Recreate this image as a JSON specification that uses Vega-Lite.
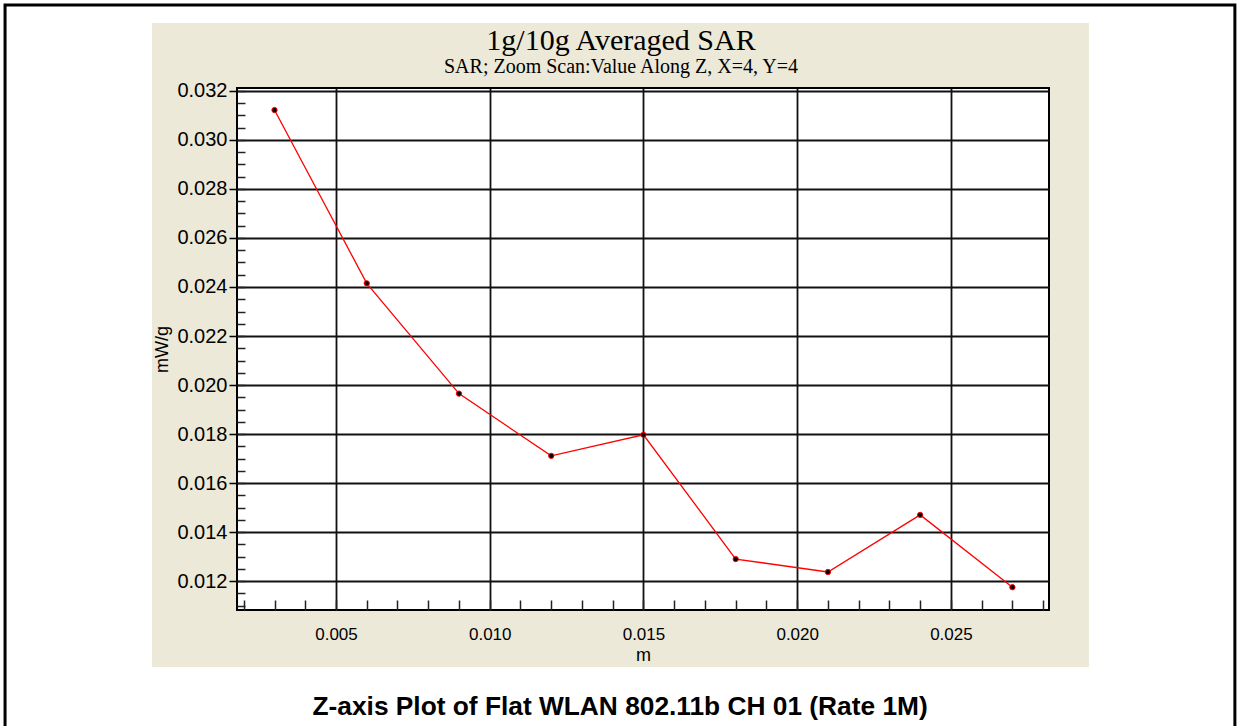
{
  "$schema": "https://vega.github.io/schema/vega-lite/v6.json",
  "width": 812,
  "height": 522,
  "autosize": {"type": "none"},
  "padding": {"left": 237, "top": 88, "right": 191, "bottom": 116},
  "background": "#ECE9D8",
  "config": {
    "view": {"fill": "white", "stroke": "black", "strokeWidth": 2},
    "axis": {"labelFont": "Liberation Sans", "titleFont": "Liberation Sans", "labelColor": "black", "titleColor": "black", "titleFontWeight": "normal"}
  },
  "title": {
    "text": "1g/10g Averaged SAR",
    "subtitle": "SAR; Zoom Scan:Value Along Z, X=4, Y=4",
    "font": "Liberation Serif",
    "fontSize": 30,
    "fontWeight": "normal",
    "color": "black",
    "subtitleFont": "Liberation Serif",
    "subtitleFontSize": 20,
    "subtitleColor": "black",
    "subtitlePadding": 1,
    "anchor": "middle",
    "frame": "group",
    "dx": -22,
    "offset": -77
  },
  "datasets": {
    "sar": [
      {"m": 0.003, "sar": 0.03122},
      {"m": 0.006, "sar": 0.02415},
      {"m": 0.009, "sar": 0.01965},
      {"m": 0.012, "sar": 0.01711},
      {"m": 0.015, "sar": 0.01797},
      {"m": 0.018, "sar": 0.0129},
      {"m": 0.021, "sar": 0.01237},
      {"m": 0.024, "sar": 0.0147},
      {"m": 0.027, "sar": 0.01175}
    ],
    "strips": [
      {"x1": -0.02, "x2": 0.05, "y1": 0.034776, "y2": 0.035711},
      {"x1": -0.02, "x2": 0.05, "y1": 0.0, "y2": 0.00849},
      {"x1": -0.02, "x2": -0.000984, "y1": 0.00849, "y2": 0.034776},
      {"x1": 0.029488, "x2": 0.05, "y1": 0.00849, "y2": 0.034776}
    ],
    "border": [
      {"x1": -0.005764, "x2": 0.034236, "y1": 0.0, "y2": 0.03551}
    ],
    "caption": [
      {"x": 0.01424, "y": 0.006857, "text": "Z-axis Plot of Flat WLAN 802.11b CH 01 (Rate 1M)"}
    ]
  },
  "resolve": {"axis": {"x": "independent", "y": "independent"}},
  "layer": [
    {
      "data": {"name": "strips"},
      "mark": {"type": "rect", "fill": "white", "strokeWidth": 0},
      "encoding": {
        "x": {"field": "x1", "type": "quantitative", "scale": {"domain": [0.00178, 0.02819], "nice": false, "zero": false}, "axis": null},
        "x2": {"field": "x2"},
        "y": {"field": "y1", "type": "quantitative", "scale": {"domain": [0.01082, 0.03212], "nice": false, "zero": false}, "axis": null},
        "y2": {"field": "y2"}
      }
    },
    {
      "data": {"name": "border"},
      "mark": {"type": "rect", "filled": false, "stroke": "black", "strokeWidth": 3},
      "encoding": {
        "x": {"field": "x1", "type": "quantitative", "scale": {"domain": [0.00178, 0.02819], "nice": false, "zero": false}, "axis": null},
        "x2": {"field": "x2"},
        "y": {"field": "y1", "type": "quantitative", "scale": {"domain": [0.01082, 0.03212], "nice": false, "zero": false}, "axis": null},
        "y2": {"field": "y2"}
      }
    },
    {
      "data": {"name": "caption"},
      "mark": {"type": "text", "font": "Liberation Sans", "fontWeight": "bold", "fontSize": 26.3, "color": "black", "align": "center", "baseline": "middle"},
      "encoding": {
        "x": {"field": "x", "type": "quantitative", "scale": {"domain": [0.00178, 0.02819], "nice": false, "zero": false}, "axis": null},
        "y": {"field": "y", "type": "quantitative", "scale": {"domain": [0.01082, 0.03212], "nice": false, "zero": false}, "axis": null},
        "text": {"field": "text"}
      }
    },
    {
      "data": {"name": "sar"},
      "mark": {"type": "line", "color": "#ff0000", "strokeWidth": 1.3},
      "encoding": {
        "x": {
          "field": "m", "type": "quantitative",
          "scale": {"domain": [0.00178, 0.02819], "nice": false, "zero": false},
          "axis": {
            "orient": "bottom", "values": [0.005, 0.01, 0.015, 0.02, 0.025], "format": ".3f",
            "grid": true, "gridColor": "#111", "gridWidth": 1.8, "gridOpacity": 1,
            "domain": false, "ticks": false, "labelPadding": 16, "labelFontSize": 17,
            "title": "m", "titleFontSize": 18, "titlePadding": 4
          }
        },
        "y": {
          "field": "sar", "type": "quantitative",
          "scale": {"domain": [0.01082, 0.03212], "nice": false, "zero": false},
          "axis": {
            "orient": "left", "values": [0.012, 0.014, 0.016, 0.018, 0.02, 0.022, 0.024, 0.026, 0.028, 0.03, 0.032], "format": ".3f",
            "grid": true, "gridColor": "#111", "gridWidth": 1.8, "gridOpacity": 1,
            "domain": false, "ticks": true, "tickSize": 8, "tickColor": "black", "tickWidth": 1.5,
            "labelPadding": 2, "labelFontSize": 20,
            "title": "mW/g", "titleFontSize": 18, "titlePadding": 5
          }
        }
      }
    },
    {
      "data": {"name": "sar"},
      "mark": {"type": "point", "filled": true, "fill": "black", "stroke": "#ff0000", "strokeWidth": 1, "size": 28, "opacity": 1},
      "encoding": {
        "x": {
          "field": "m", "type": "quantitative",
          "scale": {"domain": [0.00178, 0.02819], "nice": false, "zero": false},
          "axis": {
            "orient": "bottom",
            "values": [0.002, 0.003, 0.004, 0.005, 0.006, 0.007, 0.008, 0.009, 0.01, 0.011, 0.012, 0.013, 0.014, 0.015, 0.016, 0.017, 0.018, 0.019, 0.02, 0.021, 0.022, 0.023, 0.024, 0.025, 0.026, 0.027, 0.028],
            "grid": false, "domain": false, "labels": false, "ticks": true, "tickSize": -10, "tickColor": "#222", "tickWidth": 1.5, "title": null
          }
        },
        "y": {
          "field": "sar", "type": "quantitative",
          "scale": {"domain": [0.01082, 0.03212], "nice": false, "zero": false},
          "axis": {
            "orient": "left",
            "values": [0.011, 0.0115, 0.012, 0.0125, 0.013, 0.0135, 0.014, 0.0145, 0.015, 0.0155, 0.016, 0.0165, 0.017, 0.0175, 0.018, 0.0185, 0.019, 0.0195, 0.02, 0.0205, 0.021, 0.0215, 0.022, 0.0225, 0.023, 0.0235, 0.024, 0.0245, 0.025, 0.0255, 0.026, 0.0265, 0.027, 0.0275, 0.028, 0.0285, 0.029, 0.0295, 0.03, 0.0305, 0.031, 0.0315, 0.032],
            "grid": false, "domain": false, "labels": false, "ticks": true, "tickSize": -8, "tickColor": "#222", "tickWidth": 1.5, "title": null
          }
        }
      }
    }
  ]
}
